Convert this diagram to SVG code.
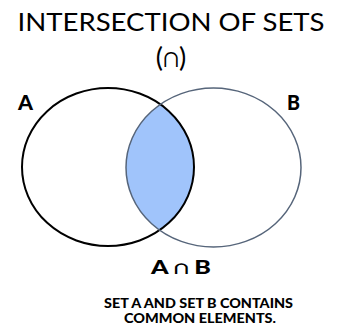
<svg xmlns="http://www.w3.org/2000/svg" width="339" height="332" viewBox="0 0 339 332">
<style>
.t{font-family:Lato,"Liberation Sans",sans-serif;fill:#000}
.b{font-weight:900}
</style>
<defs>
<clipPath id="clipA"><ellipse cx="108" cy="167" rx="86" ry="79"/></clipPath>
</defs>
<rect width="339" height="332" fill="#fff"/>
<g id="title">
<text class="t" x="171" y="31" font-size="25" text-anchor="middle" textLength="307" lengthAdjust="spacingAndGlyphs">INTERSECTION OF SETS</text>
<text class="t" x="171" y="67" font-size="27" text-anchor="middle">(∩)</text>
</g>
<g id="intersection">
<ellipse cx="213.5" cy="167.5" rx="87.5" ry="79.5" fill="#a0c4fb" clip-path="url(#clipA)"/>
</g>
<g id="setA">
<ellipse cx="108" cy="167" rx="86" ry="79" fill="none" stroke="#000" stroke-width="2"/>
<text class="t b" x="25.5" y="109.5" font-size="20" text-anchor="middle" textLength="15" lengthAdjust="spacingAndGlyphs">A</text>
</g>
<g id="setB">
<ellipse cx="213.5" cy="167.5" rx="87.5" ry="79.5" fill="none" stroke="#56657a" stroke-width="1.5"/>
<text class="t b" x="293.5" y="109.5" font-size="20" text-anchor="middle" textLength="13" lengthAdjust="spacingAndGlyphs">B</text>
</g>
<g id="label">
<text class="t b" x="181" y="273.5" font-size="19" text-anchor="middle" textLength="60" lengthAdjust="spacingAndGlyphs">A ∩ B</text>
</g>
<g id="caption">
<text class="t b" x="198.5" y="307.5" font-size="13" text-anchor="middle" textLength="189" lengthAdjust="spacingAndGlyphs">SET A AND SET B CONTAINS</text>
<text class="t b" x="200" y="322.5" font-size="13" text-anchor="middle" textLength="152" lengthAdjust="spacingAndGlyphs">COMMON ELEMENTS.</text>
</g>
</svg>
